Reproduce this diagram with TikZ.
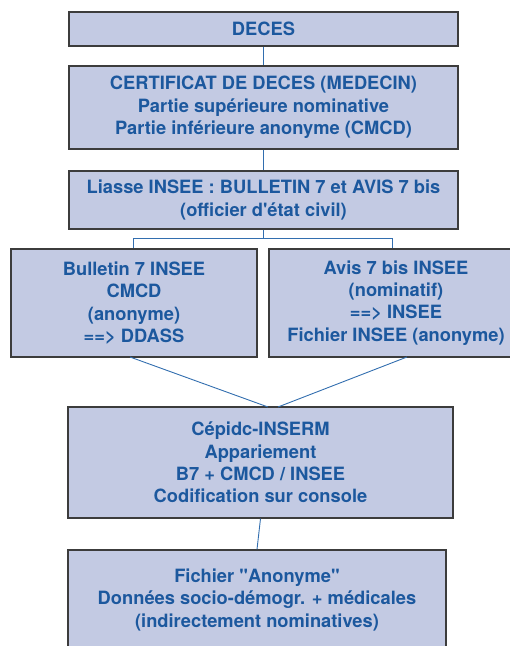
\documentclass[tikz,border=0pt]{standalone}
\usepackage{fontspec}
\setmainfont{TeX Gyre Heros}[Ligatures=TeXOff]
\definecolor{boxfill}{RGB}{195,202,227}
\definecolor{txtblue}{RGB}{28,88,158}
\definecolor{edgegray}{RGB}{60,60,60}
\definecolor{connblue}{RGB}{50,110,175}
\tikzset{
  box/.style={draw=edgegray, line width=1.3pt, fill=boxfill, text=txtblue,
    font=\fontsize{18.3}{22.3}\selectfont\bfseries, align=center,
    inner sep=0pt, rectangle},
  conn/.style={draw=connblue, line width=0.9pt}
}
\begin{document}
\begin{tikzpicture}[x=1pt,y=-1pt]
\useasboundingbox (0,0) rectangle (510,646);
\clip (0,0) rectangle (510,646);
\node[box, minimum width=389pt, minimum height=34pt] (b1) at (263.5,29) {DECES};
\node[box, minimum width=389pt, minimum height=83pt] (b2) at (263.5,107.5)
  {CERTIFICAT DE DECES (MEDECIN)\\Partie supérieure nominative\\Partie inférieure anonyme (CMCD)};
\node[box, minimum width=389pt, minimum height=58pt] (b3) at (263.5,200)
  {Liasse INSEE : BULLETIN 7 et AVIS 7 bis\\(officier d'état civil)};
\node[box, minimum width=246pt, minimum height=108pt] (b4l) at (134,303)
  {Bulletin 7 INSEE\\CMCD\\(anonyme)\\==> DDASS};
\node[box, minimum width=254pt, minimum height=108pt] (b4r) at (396,303)
  {Avis 7 bis INSEE\\(nominatif)\\==> INSEE\\Fichier INSEE (anonyme)};
\node[box, minimum width=385pt, minimum height=111pt] (b5) at (260.5,462.5)
  {Cépidc-INSERM\\Appariement\\B7 + CMCD / INSEE\\Codification sur console};
\node[box, minimum width=378pt, minimum height=100pt] (b6) at (257,600)
  {Fichier "Anonyme"\\Données socio-démogr. + médicales\\(indirectement nominatives)};
\coordinate (jl) at (133,238);
\coordinate (jr) at (392,238);
\coordinate (dl) at (130,357);
\coordinate (dr) at (407,357);
\coordinate (ml) at (268,407);
\coordinate (mr) at (278,407);
\draw[conn] (b1.south) -- (b2.north);
\draw[conn] (b2.south) -- (b3.north);
\draw[conn] (b3.south) -- (b3.south |- jl);
\draw[conn] (jl) -- (jr);
\draw[conn] (jl) -- (jl |- b4l.north);
\draw[conn] (jr) -- (jr |- b4r.north);
\draw[conn] (dl) -- (ml);
\draw[conn] (dr) -- (mr);
\draw[conn] (b5.south) -- (b6.north);
\end{tikzpicture}
\end{document}
